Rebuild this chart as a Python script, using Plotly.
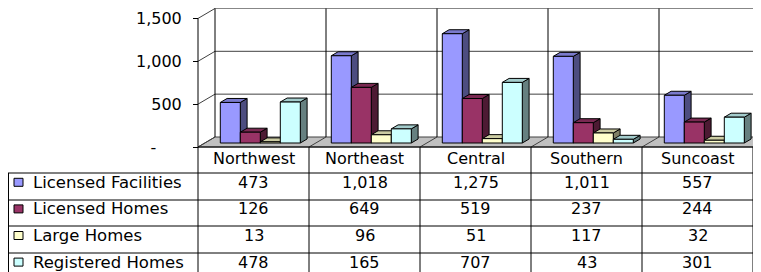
import plotly.graph_objects as go

# ---------------- data ----------------
regions = ["Northwest", "Northeast", "Central", "Southern", "Suncoast"]
series_names = ["Licensed Facilities", "Licensed Homes", "Large Homes", "Registered Homes"]
licensed_facilities = [473, 1018, 1275, 1011, 557]
licensed_homes = [126, 649, 519, 237, 244]
large_homes = [13, 96, 51, 117, 32]
registered_homes = [478, 165, 707, 43, 301]
y_tick_vals = [0, 500, 1000, 1500]
y_tick_text = ["-\u00a0\u00a0\u00a0\u00a0\u00a0", "500", "1,000", "1,500"]

series_values = [licensed_facilities, licensed_homes, large_homes, registered_homes]

# ---------------- styles ----------------
front_colors = ["#9999FF", "#993366", "#FFFFCC", "#CCFFFF"]
side_colors = ["#4D4D80", "#4D1A33", "#808066", "#668080"]
top_colors = ["#7A7ACC", "#7A2952", "#CCCCA3", "#A3CCCC"]
FONT = "DejaVu Sans"
FS = 16
FS_LABEL = 16.5

PAGE_OFF = 8                     # default body margin of the html page
W, H = 761 - PAGE_OFF, 272 - PAGE_OFF
X0_PX = 198 - PAGE_OFF           # front-left corner of the plot floor
CAT_PX = 111                     # width of one category
Y0_PX = 147 - PAGE_OFF           # front floor line
S = 0.0857                       # pixels per value unit
DEPTH_DX_PX = 17
DEPTH_DY_PX = 10
TEXT_LIFT = 4                    # table text sits slightly above cell centre

x_range = [-X0_PX / CAT_PX, (W - X0_PX) / CAT_PX]
y_range = [-(H - Y0_PX) / S, Y0_PX / S]
DX = DEPTH_DX_PX / CAT_PX
DY = DEPTH_DY_PX / S
ncat = len(regions)
nser = len(series_names)
BAR_W = 20 / CAT_PX
D_FRONT, D_BACK = 0.4, 0.8
ymax = max(y_tick_vals)

fig = go.Figure()

# ---------------- bars (3D boxes) ----------------
for j in range(nser):
    fx, fy, sx, sy, tx, ty = [], [], [], [], [], []
    for i in range(ncat):
        v = series_values[j][i]
        x0 = i + 0.5 - nser / 2 * BAR_W + j * BAR_W + D_FRONT * DX
        yb = D_FRONT * DY
        ddx = (D_BACK - D_FRONT) * DX
        ddy = (D_BACK - D_FRONT) * DY
        x1 = x0 + BAR_W
        yt = yb + v
        fx += [x0, x1, x1, x0, x0, None]
        fy += [yb, yb, yt, yt, yb, None]
        sx += [x1, x1 + ddx, x1 + ddx, x1, x1, None]
        sy += [yb, yb + ddy, yt + ddy, yt, yb, None]
        tx += [x0, x1, x1 + ddx, x0 + ddx, x0, None]
        ty += [yt, yt, yt + ddy, yt + ddy, yt, None]
    for xs, ys, col in ((sx, sy, side_colors[j]), (tx, ty, top_colors[j]), (fx, fy, front_colors[j])):
        fig.add_trace(go.Scatter(x=xs, y=ys, mode="lines", fill="toself", fillcolor=col,
                                 line=dict(color="black", width=1), hoverinfo="skip",
                                 showlegend=False, name=series_names[j]))

shapes = []
grid_col = "#404040"
shapes.append(dict(type="path", xref="x", yref="y", layer="below",
                   path=f"M 0 0 L {ncat} 0 L {ncat + DX} {DY} L {DX} {DY} Z",
                   fillcolor="#C0C0C0", line=dict(color=grid_col, width=1)))
for i in range(1, ncat):
    shapes.append(dict(type="line", xref="x", yref="y", layer="below",
                       x0=i, y0=0, x1=i + DX, y1=DY, line=dict(color=grid_col, width=1)))
for v in y_tick_vals[1:]:
    col = "#808080" if v == ymax else grid_col
    shapes.append(dict(type="line", xref="x", yref="y", layer="below",
                       x0=DX, y0=v + DY, x1=ncat + DX, y1=v + DY, line=dict(color=col, width=1)))
for v in y_tick_vals:
    shapes.append(dict(type="line", xref="x", yref="y", layer="below",
                       x0=0, y0=v, x1=DX, y1=v + DY, line=dict(color=grid_col, width=1)))
for i in range(ncat + 1):
    shapes.append(dict(type="line", xref="x", yref="y", layer="below",
                       x0=i + DX, y0=DY, x1=i + DX, y1=ymax + DY, line=dict(color="black", width=1)))
shapes.append(dict(type="line", xref="x", yref="y", x0=0, y0=0, x1=0, y1=ymax,
                   line=dict(color="black", width=1)))

# ---------------- data table ----------------
def px(xp):
    return xp / W

def py(yp):
    return 1 - yp / H

TBL_LEFT = 8 - PAGE_OFF
HEAD_TOP = Y0_PX
HEAD_BOT = 173 - PAGE_OFF
ROW_H = 26.6
TBL_RIGHT = X0_PX + CAT_PX * ncat
line_style = dict(color="black", width=1)
for i in range(ncat + 1):
    xc = X0_PX + CAT_PX * i
    shapes.append(dict(type="line", xref="paper", yref="paper", x0=px(xc), x1=px(xc),
                       y0=py(HEAD_TOP), y1=py(H + 5), line=line_style))
shapes.append(dict(type="line", xref="paper", yref="paper", x0=px(TBL_LEFT + 0.5), x1=px(TBL_LEFT + 0.5),
                   y0=py(HEAD_BOT), y1=py(H + 5), line=line_style))
shapes.append(dict(type="line", xref="paper", yref="paper", x0=px(X0_PX), x1=px(TBL_RIGHT),
                   y0=py(HEAD_TOP), y1=py(HEAD_TOP), line=line_style))
for r in range(nser):
    yl = round(HEAD_BOT + ROW_H * r)
    shapes.append(dict(type="line", xref="paper", yref="paper", x0=px(TBL_LEFT), x1=px(TBL_RIGHT),
                       y0=py(yl), y1=py(yl), line=line_style))

annotations = []
for i, reg in enumerate(regions):
    annotations.append(dict(xref="paper", yref="paper", x=px(X0_PX + CAT_PX * (i + 0.5)),
                            y=py((HEAD_TOP + HEAD_BOT) / 2 - 2), text=reg, showarrow=False,
                            xanchor="center", yanchor="middle",
                            font=dict(family=FONT, size=FS, color="black")))
for r in range(nser):
    yc = HEAD_BOT + ROW_H * (r + 0.5) - TEXT_LIFT
    shapes.append(dict(type="rect", xref="paper", yref="paper",
                       x0=px(14 - PAGE_OFF), x1=px(23 - PAGE_OFF), y0=py(yc + 4), y1=py(yc - 4),
                       fillcolor=front_colors[r], line=dict(color="black", width=1)))
    annotations.append(dict(xref="paper", yref="paper", x=px(31 - PAGE_OFF), y=py(yc),
                            text=series_names[r], showarrow=False, xanchor="left", yanchor="middle",
                            font=dict(family=FONT, size=FS_LABEL, color="black")))
    for i in range(ncat):
        annotations.append(dict(xref="paper", yref="paper", x=px(X0_PX + CAT_PX * (i + 0.5)),
                                y=py(yc), text=f"{series_values[r][i]:,}", showarrow=False,
                                xanchor="center", yanchor="middle",
                                font=dict(family=FONT, size=FS, color="black")))

fig.update_layout(
    width=W, height=H,
    margin=dict(l=0, r=0, t=0, b=0),
    paper_bgcolor="white", plot_bgcolor="white",
    showlegend=False,
    xaxis=dict(range=x_range, visible=False, fixedrange=True),
    yaxis=dict(range=y_range, anchor="free", position=X0_PX / W, side="left",
               tickvals=y_tick_vals, ticktext=y_tick_text, ticks="outside", ticklen=5,
               tickcolor="black", showgrid=False, zeroline=False, showline=False,
               ticklabelstandoff=8,
               tickfont=dict(family=FONT, size=FS, color="black"), fixedrange=True),
    shapes=shapes,
    annotations=annotations,
)

fig.write_html("out.html")
